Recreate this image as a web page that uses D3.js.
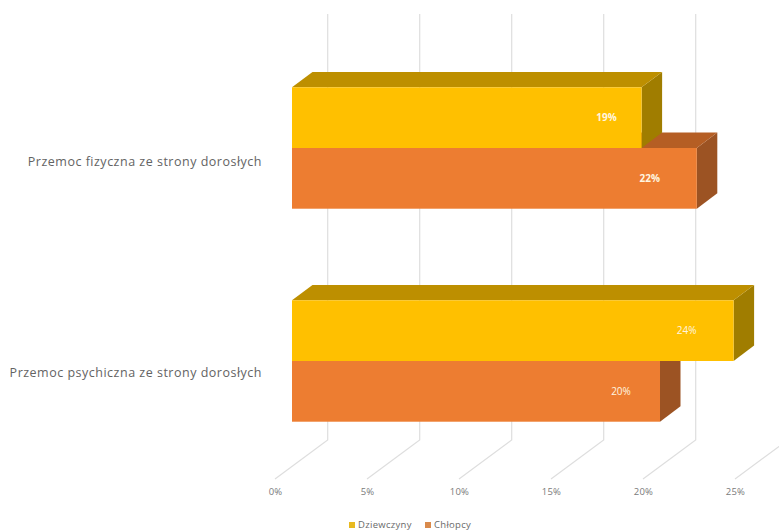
<!DOCTYPE html>
<html>
<head>
<meta charset="utf-8">
<script src="https://cdn.jsdelivr.net/npm/d3@7/dist/d3.min.js"></script>
<style>
html,body{margin:0;padding:0;background:#fff;overflow:hidden}
svg{display:block}
text{font-family:"Open Sans",sans-serif}
</style>
</head>
<body>
<svg id="chart" width="779" height="530"></svg>
<script>
// Chart values
const categories = ["Przemoc fizyczna ze strony dorosłych", "Przemoc psychiczna ze strony dorosłych"];
const seriesNames = ["Dziewczyny", "Chłopcy"];
const dziewczyny = [19, 24];
const chlopcy = [22, 20];
const tickValues = [0, 5, 10, 15, 20, 25];

// Shades per series: front, top and side faces of the box
const faces = {
  "Dziewczyny": {front: "#FFC000", top: "#BD8F00", side: "#A07D00"},
  "Chłopcy": {front: "#ED7D31", top: "#B55E24", side: "#9C5323"}
};
// Data labels sit inside the bar, this far back from its end
const labelInset = {"Dziewczyny": [35, 47], "Chłopcy": [47, 39]};
const labelWeight = {"Dziewczyny": [700, 400], "Chłopcy": [700, 400]};

const svg = d3.select("#chart");
const x = d3.scaleLinear().domain([0, 25]).range([275, 735]);
const y = d3.scaleBand().domain(categories).range([53, 479]).paddingInner(0.43).paddingOuter(0.215);
const series = d3.scaleBand().domain(seriesNames).range([0, y.bandwidth()]);
const labelY = d3.scalePoint().domain(categories).range([162, 373]);

// Oblique projection of the chart's depth
const wall = {dx: 52.7, dy: -39};     // floor front edge to back wall
const barStart = {dx: 17, dy: -11.5}; // floor front edge to bar front face
const barDepth = {dx: 20.5, dy: -15.4};
const wallTop = 14;

// Gridlines: up the back wall, then forward across the floor
const grid = svg.append("g").attr("fill", "none").attr("stroke", "#DEDEDE").attr("stroke-width", 1.2);
const gridLine = d3.line();
tickValues.forEach(t => {
  const fx = x(t);
  const by = y.range()[1];
  grid.append("path").attr("d", gridLine([
    [fx + wall.dx, wallTop],
    [fx + wall.dx, by + wall.dy],
    [fx, by]
  ]));
});

// Boxes: orange first, so each yellow box overlaps the one below it
const poly = d3.line();
[["Chłopcy", chlopcy], ["Dziewczyny", dziewczyny]].forEach(([name, values]) => {
  const g = svg.append("g");
  values.forEach((v, i) => {
    const left = x(0) + barStart.dx;
    const right = x(v) + barStart.dx;
    const topY = y(categories[i]) + series(name) + barStart.dy;
    const botY = topY + series.bandwidth();
    const d = barDepth;
    g.append("path").attr("fill", faces[name].side).attr("d", poly([
      [right, topY], [right + d.dx, topY + d.dy], [right + d.dx, botY + d.dy], [right, botY]
    ]) + "Z");
    g.append("path").attr("fill", faces[name].top).attr("d", poly([
      [left, topY], [left + d.dx, topY + d.dy], [right + d.dx, topY + d.dy], [right, topY]
    ]) + "Z");
    g.append("rect").attr("x", left).attr("y", topY)
      .attr("width", right - left).attr("height", botY - topY)
      .attr("fill", faces[name].front);
  });
});

// Data labels
[["Dziewczyny", dziewczyny], ["Chłopcy", chlopcy]].forEach(([name, values]) => {
  svg.append("g").selectAll("text").data(values).join("text")
    .attr("x", (v, i) => x(v) + barStart.dx - labelInset[name][i])
    .attr("y", (v, i) => y(categories[i]) + series(name) + barStart.dy + series.bandwidth() / 2)
    .attr("dy", "0.35em")
    .attr("text-anchor", "middle")
    .attr("font-size", 10)
    .attr("font-weight", (v, i) => labelWeight[name][i])
    .attr("fill", "#FFF6E0")
    .text(v => v + "%");
});

// Category labels, right-aligned against the bars
svg.append("g").selectAll("text").data(categories).join("text")
  .attr("x", 262)
  .attr("y", c => labelY(c))
  .attr("dy", "0.35em")
  .attr("text-anchor", "end")
  .attr("font-size", 12.5)
  .attr("letter-spacing", 0.5)
  .attr("fill", "#636363")
  .text(c => c);

// Value axis along the floor's front edge
const axis = d3.axisBottom(x).tickValues(tickValues).tickFormat(t => t + "%").tickSize(0).tickPadding(9);
const axisG = svg.append("g").attr("transform", "translate(0,479)").call(axis);
axisG.select(".domain").remove();
axisG.selectAll("text").attr("font-family", '"Open Sans",sans-serif').attr("font-size", 9.5).attr("letter-spacing", 0.2).attr("fill", "#7A7A7A");

// Legend
const legendItems = [
  {name: seriesNames[0], color: "#E8B920", px: 349},
  {name: seriesNames[1], color: "#D98A4C", px: 425}
];
const legend = svg.append("g");
legendItems.forEach(item => {
  legend.append("rect").attr("x", item.px).attr("y", 522).attr("width", 6).attr("height", 6)
    .attr("fill", item.color);
  legend.append("text").attr("x", item.px + 9).attr("y", 525).attr("dy", "0.35em")
    .attr("font-size", 9.5).attr("letter-spacing", 0.3).attr("fill", "#6A6A6A").text(item.name);
});
</script>
</body>
</html>
